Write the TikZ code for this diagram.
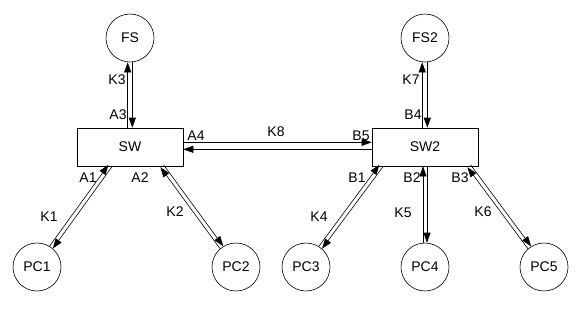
\documentclass[tikz,border=0pt]{standalone}
\usepackage{fontspec}
\setmainfont{Liberation Sans}
\usetikzlibrary{arrows.meta,calc}
\begin{document}
\begin{tikzpicture}[x=1pt,y=-1pt,
  circ/.style={circle,draw,line width=0.6pt,minimum size=48pt,inner sep=0pt,font=\fontsize{14}{16}\selectfont},
  box/.style={rectangle,draw,line width=0.6pt,minimum width=106pt,minimum height=38pt,inner sep=0pt,font=\fontsize{14}{16}\selectfont},
  lbl/.style={inner sep=0pt,font=\fontsize{14}{16}\selectfont},
  arr/.style={line width=0.6pt,-{Triangle[length=10pt,width=7pt]}}]
\useasboundingbox (0,0) rectangle (581,308);
% nodes
\node[circ] (FS) at (130,38) {FS};
\node[box] (SW) at (130,147) {SW};
\node[circ] (FS2) at (425,38) {FS2};
\node[box] (SW2) at (425,147) {SW2};
\node[circ] (PC1) at (37,267) {PC1};
\node[circ] (PC2) at (236,267) {PC2};
\node[circ] (PC3) at (306,267) {PC3};
\node[circ] (PC4) at (425,267) {PC4};
\node[circ] (PC5) at (544,267) {PC5};
% attachment points on the box bottoms
\coordinate (s1) at (110,166);
\coordinate (s2) at (162,166);
\coordinate (s3) at (381,166);
\coordinate (s5) at (469,166);
% FS - SW
\draw[arr] ([xshift=-2.3pt]SW.north) -- ([xshift=-2.3pt]FS.south);
\draw[arr] ([xshift=2.3pt]FS.south) -- ([xshift=2.3pt]SW.north);
% FS2 - SW2
\draw[arr] ([xshift=-2.8pt]SW2.north) -- ([xshift=-2.8pt]FS2.south);
\draw[arr] ([xshift=2.3pt]FS2.south) -- ([xshift=2.3pt]SW2.north);
% SW - SW2
\draw[arr] ([yshift=4.7pt]SW.east) -- ([yshift=4.7pt]SW2.west);
\draw[arr] ([yshift=-2.3pt]SW2.west) -- ([yshift=-2.3pt]SW.east);
% PC4 - SW2
\draw[arr] ([xshift=-2pt]PC4.north) -- ([xshift=-2pt]SW2.south);
\draw[arr] ([xshift=2pt]SW2.south) -- ([xshift=2pt]PC4.north);
% diagonals
\begin{scope}[transform canvas={shift={(-1.6,-1.2)}}]
\draw[arr] (PC1) -- (s1);
\draw[arr] (PC3) -- (s3);
\end{scope}
\begin{scope}[transform canvas={shift={(1.6,1.2)}}]
\draw[arr] (s1) -- (PC1);
\draw[arr] (s3) -- (PC3);
\end{scope}
\begin{scope}[transform canvas={shift={(-1.6,1.2)}}]
\draw[arr] (PC2) -- (s2);
\draw[arr] (PC5) -- (s5);
\end{scope}
\begin{scope}[transform canvas={shift={(1.6,-1.2)}}]
\draw[arr] (s2) -- (PC2);
\draw[arr] (s5) -- (PC5);
\end{scope}
% labels
\node[lbl] (lK3) at (117,80) {K3};
\node[lbl] (lA3) at (118,115) {A3};
\node[lbl] (lA4) at (196,136) {A4};
\node[lbl] (lK8) at (276,132) {K8};
\node[lbl] (lB5) at (361,136) {B5};
\node[lbl] (lK7) at (411,80) {K7};
\node[lbl] (lB4) at (413,115) {B4};
\node[lbl] (lA1) at (88,178) {A1};
\node[lbl] (lK1) at (49,217) {K1};
\node[lbl] (lA2) at (140,178) {A2};
\node[lbl] (lK2) at (175,212) {K2};
\node[lbl] (lB1) at (357,178) {B1};
\node[lbl] (lK4) at (319,217) {K4};
\node[lbl] (lB2) at (412,178) {B2};
\node[lbl] (lK5) at (403,213) {K5};
\node[lbl] (lB3) at (460,178) {B3};
\node[lbl] (lK6) at (483,212) {K6};
\end{tikzpicture}
\end{document}
